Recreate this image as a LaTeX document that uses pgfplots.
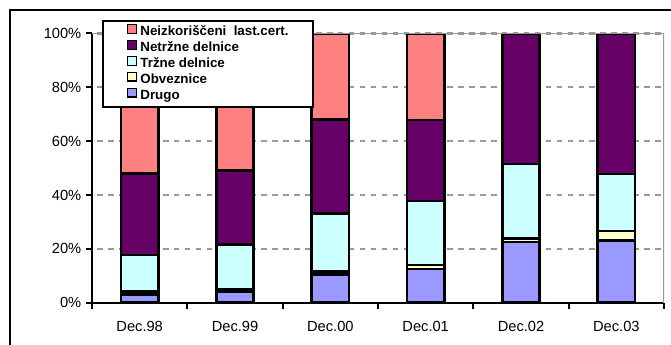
\documentclass[border=0pt]{standalone}
\usepackage{fontspec}
\setmainfont{Liberation Sans}
\usepackage{pgfplots}
\usepackage{pgfplotstable}
\pgfplotsset{compat=1.18}

\definecolor{neizk}{HTML}{FF8080}
\definecolor{netrz}{HTML}{660066}
\definecolor{trz}{HTML}{CCFFFF}
\definecolor{obv}{HTML}{FFFFCC}
\definecolor{drugo}{HTML}{9999FF}
\definecolor{gridgray}{HTML}{999999}

% Portfolio structure, share of total (%)
\pgfplotstableread{
x drugo obv trz netrz neizk
0 3.1  1.1 13.6 30.1 52.1
1 3.9  1.0 16.8 27.3 51.0
2 10.5 1.0 21.7 34.8 32.0
3 12.6 1.4 23.8 30.0 32.2
4 22.5 1.3 27.7 48.5 0
5 23.2 3.4 21.2 52.2 0
}\shares

\begin{document}
\begin{tikzpicture}
\path[use as bounding box] (0pt,0pt) rectangle (503.25pt,258.75pt);
\draw[line width=1.5pt] (7.7pt,0pt) -- (7.7pt,251.6pt) -- (503.25pt,251.6pt);
\begin{axis}[
  at={(69pt,31.7pt)}, anchor=south west,
  scale only axis, width=429pt, height=202pt,
  xmin=-0.5, xmax=5.5, ymin=0, ymax=100,
  ybar stacked, bar width=0.39,
  axis lines*=left, axis line style={line width=1.6pt,-},
  tick pos=left, tick align=outside, major tick length=4.5pt,
  tick style={black, line width=1.6pt},
  ytick={0,20,...,100},
  yticklabels={0\%,20\%,40\%,60\%,80\%,100\%},
  xtick={-0.5,0.5,...,5.5}, xticklabels={},
  extra x ticks={0,1,2,3,4,5},
  extra x tick labels={Dec.98,Dec.99,Dec.00,Dec.01,Dec.02,Dec.03},
  extra x tick style={major tick length=0pt, grid=none},
  ticklabel style={font=\fontsize{11}{13}\selectfont},
  xticklabel style={yshift=-10pt},
  ymajorgrids=true,
  major grid style={gridgray, line width=1.8pt, dash pattern=on 4.1pt off 4.1pt, dash phase=4.1pt},
  every axis plot/.append style={draw=black, line width=1.9pt},
  legend image code/.code={\draw[#1,draw=black,line width=0.9pt] (0pt,-0.2pt) rectangle (6.6pt,6.4pt);},
  reverse legend,
  legend cell align=left,
  legend style={at={(axis description cs:0.0175,1.051)}, anchor=north west,
    draw=black, line width=1.6pt, fill=white,
    inner xsep=18pt, inner ysep=2.5pt, column sep=2.5pt, row sep=0pt,
    font=\fontsize{10}{11}\selectfont\bfseries,
    nodes={inner sep=0pt, text height=6.9pt, text depth=3.2pt}},
]
\draw[gridgray, line width=1.1pt] (rel axis cs:0,1) -- (rel axis cs:1,1) -- (rel axis cs:1,0);
\addplot[fill=drugo] table[x=x, y=drugo] {\shares};
\addplot[fill=obv] table[x=x, y=obv] {\shares};
\addplot[fill=trz] table[x=x, y=trz] {\shares};
\addplot[fill=netrz] table[x=x, y=netrz] {\shares};
\addplot[fill=neizk] table[x=x, y=neizk] {\shares};
\legend{Drugo, Obveznice, Tržne delnice, Netržne delnice, Neizkoriščeni\ \ last.cert.}
\end{axis}
\end{tikzpicture}
\end{document}
